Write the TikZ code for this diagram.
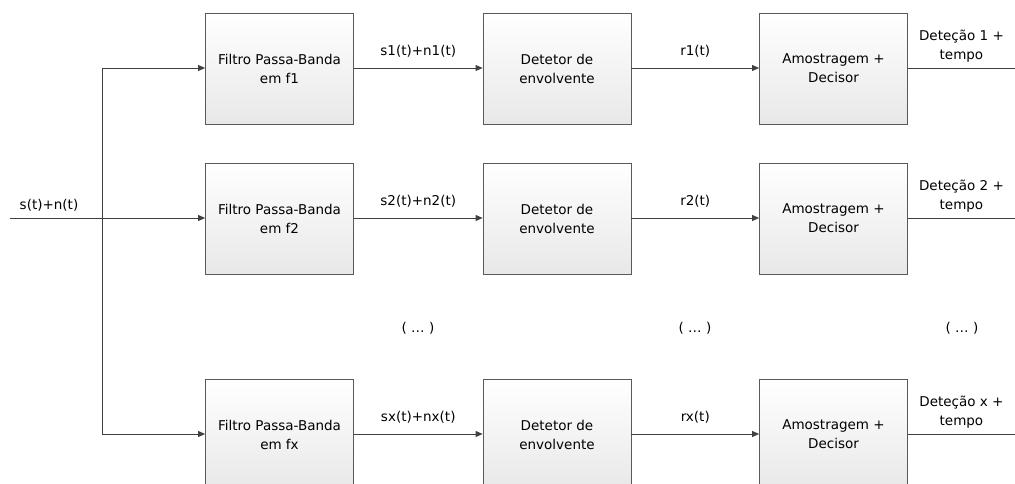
\documentclass[tikz,border=0pt]{standalone}
\usepackage{fontspec}
\setmainfont{DejaVu Sans}
\usetikzlibrary{arrows.meta}
\begin{document}
\begin{tikzpicture}[x=1pt,y=-1pt,
  font=\fontsize{13.5}{19}\selectfont,
  blockbox/.style={draw=black!65, line width=0.8pt, top color=white, bottom color=black!9,
    minimum width=148pt, minimum height=111pt, align=center, inner sep=0pt},
  wire/.style={draw=black!75, line width=0.8pt},
  arr/.style={wire, -{Triangle[length=7pt,width=6pt]}},
  lbl/.style={align=center, inner sep=0pt}]
\useasboundingbox (0,0) rectangle (1015,484);

% row centres: 68, 218, 434 (box tops 13, 163, 379)
\foreach \r/\yc/\f/\s/\rr/\d in {1/68/f1/s1(t)+n1(t)/r1(t)/1, 2/218/f2/s2(t)+n2(t)/r2(t)/2, 3/434/fx/sx(t)+nx(t)/rx(t)/x}{
  \node[blockbox] (fil\r) at (279.5,\yc+0.5) {Filtro Passa-Banda\\em \f};
  \node[blockbox] (det\r) at (557,\yc+0.5) {Detetor de\\envolvente};
  \node[blockbox] (amo\r) at (833.5,\yc+0.5) {Amostragem +\\Decisor};
  \coordinate (out\r) at (1015,\yc);
  \draw[arr] (fil\r.east |- 0,\yc) -- (det\r.west |- 0,\yc)
    node[lbl, midway, above=10pt] {\s};
  \draw[arr] (det\r.east |- 0,\yc) -- (amo\r.west |- 0,\yc)
    node[lbl, midway, above=10pt] {\rr};
  \draw[wire] (amo\r.east |- 0,\yc) -- (out\r)
    node[lbl, midway, above=5pt] {Deteção \d\ +\\tempo};
}

% input signal and distribution bus
\coordinate (in) at (10,218);
\coordinate (bus1) at (102,68);
\coordinate (bus2) at (102,218);
\coordinate (bus3) at (102,434);
\draw[arr] (in) -- (fil2.west |- bus2) node[lbl, pos=0.2, above=6pt] {s(t)+n(t)};
\draw[wire] (bus1) -- (bus3);
\draw[arr] (bus1) -- (fil1.west |- bus1);
\draw[arr] (bus3) -- (fil3.west |- bus3);

% omitted branches
\node[lbl] (dots1) at (418,328) {( … )};
\node[lbl] (dots2) at (695,328) {( … )};
\node[lbl] (dots3) at (962,328) {( … )};
\end{tikzpicture}
\end{document}
